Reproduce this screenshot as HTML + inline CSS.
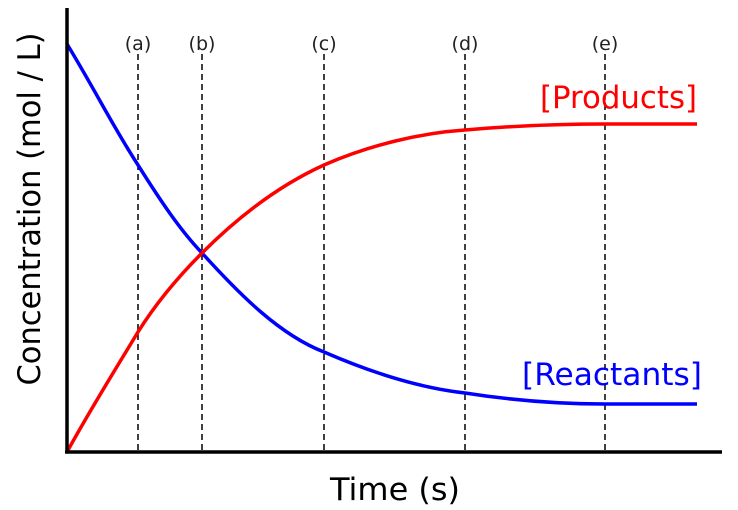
<!DOCTYPE html>
<html><head><meta charset="utf-8"><style>
html,body{margin:0;padding:0;background:#fff;}
svg{display:block;}
</style></head><body>
<svg width="738" height="510" viewBox="0 0 738 510" xmlns="http://www.w3.org/2000/svg">
<rect width="738" height="510" fill="#fff"/>
<g stroke="#000" stroke-width="1.5" stroke-dasharray="6,4" fill="none">
<line x1="138" y1="54" x2="138" y2="452"/>
<line x1="202" y1="54" x2="202" y2="452"/>
<line x1="324" y1="54" x2="324" y2="452"/>
<line x1="465" y1="54" x2="465" y2="452"/>
<line x1="605" y1="54" x2="605" y2="452"/>
</g>
<g font-family="DejaVu Sans, Liberation Sans, sans-serif" font-size="19" fill="#222" text-anchor="middle">
<text x="138" y="50">(a)</text>
<text x="202" y="50">(b)</text>
<text x="324" y="50">(c)</text>
<text x="465" y="50">(d)</text>
<text x="605" y="50">(e)</text>
</g>
<path d="M67,44 C95,90 115,130 138,165 C160,200 180,230 202,253 C240,295 280,335 324,352 C370,372 420,388 465,393 C510,400 560,404 605,404 L697,404" fill="none" stroke="#0000ff" stroke-width="3.5"/>
<path d="M67,452 C90,410 115,370 138,332 C158,300 180,275 202,253 C240,215 280,185 324,165 C370,145 420,133 465,130 C510,126 560,124 605,124 L697,124" fill="none" stroke="#ff0000" stroke-width="3.5"/>
<line x1="67" y1="8" x2="67" y2="453" stroke="#000" stroke-width="3.5"/>
<line x1="65" y1="452" x2="722" y2="452" stroke="#000" stroke-width="3.5"/>
<text x="697" y="108" font-family="DejaVu Sans, sans-serif" font-size="31" fill="#ff0000" text-anchor="end" textLength="157" lengthAdjust="spacingAndGlyphs">[Products]</text>
<text x="702" y="385" font-family="DejaVu Sans, sans-serif" font-size="31" fill="#0000ff" text-anchor="end" textLength="180" lengthAdjust="spacingAndGlyphs">[Reactants]</text>
<text x="395" y="500" font-family="DejaVu Sans, sans-serif" font-size="31" fill="#000" text-anchor="middle" textLength="130" lengthAdjust="spacingAndGlyphs">Time (s)</text>
<text transform="translate(40,209) rotate(-90)" font-family="DejaVu Sans, sans-serif" font-size="31" fill="#000" text-anchor="middle" textLength="353" lengthAdjust="spacingAndGlyphs">Concentration (mol / L)</text>
</svg>
</body></html>
